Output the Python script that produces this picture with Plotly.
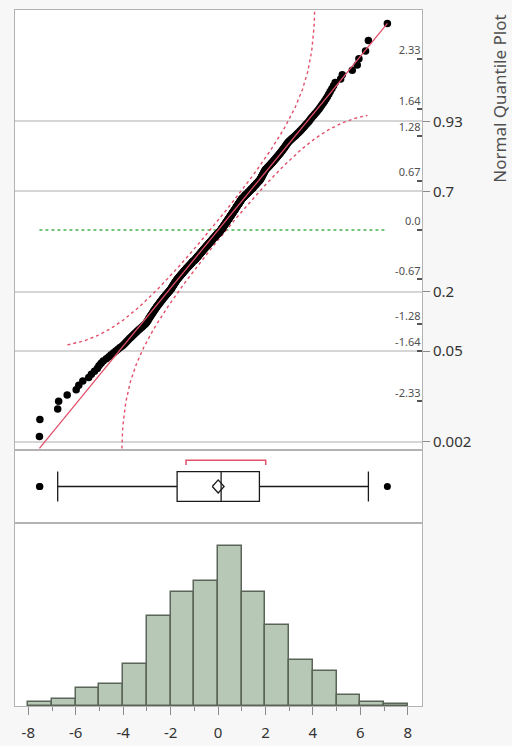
from statistics import NormalDist
import numpy as np
import plotly.graph_objects as go

# Sorted sample (n = 399), grouped by unit-width bin for readability
values_by_bin = {
    "-8..-7": [-7.53, -7.51],
    "-7..-6": [-6.76, -6.72, -6.36],
    "-6..-5": [-5.98, -5.87, -5.70, -5.45, -5.34, -5.21, -5.09, -5.02],
    "-5..-4": [-4.93, -4.84, -4.71, -4.60, -4.51, -4.40, -4.31, -4.22, -4.13, -4.04],
    "-4..-3": [-3.97, -3.91, -3.85, -3.79, -3.73, -3.67, -3.62, -3.56, -3.51, -3.45,
               -3.40, -3.34, -3.29, -3.23, -3.18, -3.13, -3.08, -3.04, -3.01],
    "-3..-2": [-2.98, -2.95, -2.93, -2.91, -2.88, -2.86, -2.83, -2.81, -2.78, -2.76,
               -2.73, -2.71, -2.69, -2.66, -2.64, -2.61, -2.59, -2.57, -2.54, -2.52,
               -2.49, -2.47, -2.45, -2.42, -2.40, -2.37, -2.35, -2.33, -2.30, -2.28,
               -2.25, -2.23, -2.21, -2.18, -2.16, -2.13, -2.11, -2.09, -2.06, -2.04,
               -2.02],
    "-2..-1": [-1.99, -1.97, -1.96, -1.94, -1.93, -1.91, -1.89, -1.88, -1.86, -1.84,
               -1.83, -1.81, -1.80, -1.78, -1.76, -1.75, -1.73,
               -1.71, -1.69, -1.67, -1.65, -1.63, -1.61, -1.59, -1.57, -1.55, -1.53,
               -1.51, -1.49, -1.47, -1.45, -1.43, -1.41, -1.39, -1.37, -1.35, -1.33,
               -1.31, -1.29, -1.27, -1.25, -1.23, -1.21, -1.19, -1.17, -1.15, -1.13,
               -1.11, -1.09, -1.07, -1.05, -1.02],
    "-1..0": [-0.99, -0.97, -0.95, -0.94, -0.92, -0.90, -0.88, -0.87, -0.85, -0.83,
              -0.82, -0.80, -0.78, -0.76, -0.75, -0.73, -0.71, -0.69, -0.68, -0.66,
              -0.64, -0.62, -0.61, -0.59, -0.57, -0.56, -0.54, -0.52, -0.50, -0.49,
              -0.47, -0.45, -0.43, -0.42, -0.40, -0.38, -0.36, -0.35, -0.33, -0.31,
              -0.29, -0.28, -0.26, -0.24, -0.23, -0.21, -0.19, -0.17, -0.16, -0.14,
              -0.12, -0.10, -0.09, -0.07, -0.05, -0.03, -0.01],
    "0..1": [0.01, 0.03, 0.04, 0.06, 0.08, 0.09, 0.11, 0.13,
             0.14, 0.15, 0.17, 0.18, 0.19, 0.21, 0.22, 0.23, 0.25, 0.26,
             0.27, 0.29, 0.30, 0.31, 0.33, 0.34, 0.35, 0.37, 0.38, 0.39,
             0.41, 0.42, 0.43, 0.45, 0.46, 0.47, 0.49, 0.50, 0.51, 0.53,
             0.54, 0.55, 0.57, 0.58, 0.59, 0.61, 0.62, 0.63, 0.65, 0.66,
             0.67, 0.69, 0.70, 0.71, 0.73, 0.74, 0.75, 0.77, 0.78, 0.79,
             0.81, 0.82, 0.83, 0.85, 0.86, 0.87, 0.89, 0.90, 0.91, 0.93,
             0.94, 0.95, 0.97, 0.98, 0.99],
    "1..2": [1.01, 1.03, 1.05, 1.08, 1.10, 1.12, 1.14, 1.16, 1.18, 1.21,
             1.23, 1.25, 1.27, 1.29, 1.31, 1.34, 1.36, 1.38, 1.40, 1.42,
             1.45, 1.47, 1.49, 1.51, 1.53, 1.55, 1.58, 1.60, 1.62, 1.64,
             1.66, 1.68, 1.71, 1.73, 1.75,
             1.77, 1.78, 1.80, 1.81, 1.83, 1.84, 1.85, 1.87, 1.88, 1.89,
             1.91, 1.92, 1.94, 1.95, 1.96, 1.98, 1.99],
    "2..3": [2.01, 2.04, 2.07, 2.09, 2.12, 2.15, 2.17, 2.20, 2.23, 2.25,
             2.28, 2.31, 2.33, 2.36, 2.39, 2.41, 2.44, 2.47, 2.49, 2.52,
             2.55, 2.57, 2.60, 2.63, 2.65, 2.68, 2.71, 2.73, 2.76, 2.79,
             2.81, 2.84, 2.87, 2.89, 2.92, 2.95, 2.98],
    "3..4": [3.02, 3.07, 3.11, 3.16, 3.21, 3.26, 3.30, 3.35, 3.40, 3.45,
             3.49, 3.54, 3.59, 3.64, 3.68, 3.73, 3.78, 3.83, 3.87, 3.92, 3.97],
    "4..5": [4.03, 4.08, 4.14, 4.20, 4.26, 4.31, 4.37, 4.43, 4.49, 4.55,
             4.61, 4.67, 4.73, 4.80, 4.87, 4.94],
    "5..6": [5.17, 5.24, 5.66, 5.87, 5.94],
    "6..7": [6.22, 6.34],
    "7..8": [7.14],
}

# Reference probabilities shown on the outer quantile axis
prob_ticks = [0.002, 0.05, 0.2, 0.7, 0.93]
prob_labels = ["0.002", "0.05", "0.2", "0.7", "0.93"]
# Normal quantile ticks drawn inside the plot frame
quant_ticks = [-2.33, -1.64, -1.28, -0.67, 0.0, 0.67, 1.28, 1.64, 2.33]
quant_labels = ["-2.33", "-1.64", "-1.28", "-0.67", "0.0", "0.67", "1.28", "1.64", "2.33"]
# Histogram x ticks
x_ticks = [-8, -6, -4, -2, 0, 2, 4, 6, 8]
x_labels = ["-8", "-6", "-4", "-2", "0", "2", "4", "6", "8"]

band_span = (-6.35, 6.30)   # x-extent of the Lilliefors bands
band_d = 0.053              # band half-width in probability units

nd = NormalDist()
data = np.sort(np.concatenate([np.array(v, float) for v in values_by_bin.values()]))
n = len(data)
mean = float(data.mean())
sd = float(data.std(ddof=1))
ranks = np.arange(1, n + 1)
quant = np.array([nd.inv_cdf(r / (n + 1)) for r in ranks])

RED = "#e2506a"
GRID = "#d6d6d6"
FRAME = "#b3b3b3"
FONT = "Noto Sans"

fig = go.Figure()

# ---- histogram (bottom panel)
fig.add_trace(go.Histogram(
    x=data, xbins=dict(start=-8, end=8, size=1), autobinx=False,
    marker=dict(color="#b8c8b6", line=dict(color="#5a6558", width=1.5)),
    xaxis="x", yaxis="y", showlegend=False, hoverinfo="skip"))

# ---- outlier box plot (middle panel)
fig.add_trace(go.Box(
    x=data, y0=0, orientation="h", boxpoints="outliers", whiskerwidth=1,
    width=0.82, fillcolor="white", line=dict(color="#1a1a1a", width=1.3),
    marker=dict(color="black", size=7), quartilemethod="linear",
    xaxis="x2", yaxis="y2", showlegend=False, hoverinfo="skip"))

# mean diamond: mean with 95% confidence interval
ci = 1.96 * sd / np.sqrt(n)
fig.add_trace(go.Scatter(
    x=[mean - ci, mean, mean + ci, mean, mean - ci],
    y=[0, 0.18, 0, -0.18, 0], mode="lines",
    line=dict(color="#1a1a1a", width=1.3),
    xaxis="x2", yaxis="y2", showlegend=False, hoverinfo="skip"))

# shortest half bracket
k = n // 2
widths = data[k:] - data[:n - k]
i0 = int(np.argmin(widths))
sh_lo, sh_hi = float(data[i0]), float(data[i0 + k])
fig.add_trace(go.Scatter(
    x=[sh_lo, sh_lo, sh_hi, sh_hi], y=[0.59, 0.72, 0.72, 0.59], mode="lines",
    line=dict(color=RED, width=1.5),
    xaxis="x2", yaxis="y2", showlegend=False, hoverinfo="skip"))

# ---- normal quantile plot (top panel)
xmin, xmax = float(data.min()), float(data.max())
fig.add_trace(go.Scatter(
    x=[xmin, xmax], y=[0, 0], mode="lines",
    line=dict(color="#4cb050", width=1.6, dash="dot"),
    xaxis="x3", yaxis="y3", showlegend=False, hoverinfo="skip"))

# Lilliefors confidence bands
xs = np.linspace(band_span[0], band_span[1], 600)
up_x, up_y, lo_x, lo_y = [], [], [], []
for xv in xs:
    p = nd.cdf((xv - mean) / sd)
    if p + band_d < 0.99995:
        up_x.append(xv)
        up_y.append(nd.inv_cdf(p + band_d))
    if p - band_d > 0.00005:
        lo_x.append(xv)
        lo_y.append(nd.inv_cdf(p - band_d))
for bx, by in ((up_x, up_y), (lo_x, lo_y)):
    fig.add_trace(go.Scatter(
        x=bx, y=by, mode="lines", line=dict(color=RED, width=1.4, dash="dot"),
        xaxis="x3", yaxis="y3", showlegend=False, hoverinfo="skip"))

fig.add_trace(go.Scatter(
    x=data, y=quant, mode="markers",
    marker=dict(color="black", size=7.5),
    xaxis="x3", yaxis="y3", showlegend=False, hoverinfo="skip"))

# fitted normal line over the points
fig.add_trace(go.Scatter(
    x=[xmin, xmax], y=[(xmin - mean) / sd, (xmax - mean) / sd], mode="lines",
    line=dict(color=RED, width=1.3),
    xaxis="x3", yaxis="y3", showlegend=False, hoverinfo="skip"))

# probability axis shares the quantile scale; it carries the same points invisibly
fig.add_trace(go.Scatter(
    x=data, y=quant, mode="markers", marker=dict(opacity=0),
    xaxis="x3", yaxis="y4", showlegend=False, hoverinfo="skip"))

XR = [-8.56, 8.60]
d_hist = [0.0, 0.263]
d_box = [0.263, 0.3678]
d_qq = [0.3678, 1.0]
frame = dict(showline=True, linecolor=FRAME, linewidth=1.2, mirror=True,
             zeroline=False, automargin=False)

fig.update_layout(
    width=512, height=746,
    margin=dict(l=15, r=90, t=10, b=40),
    paper_bgcolor="#f7f7f7", plot_bgcolor="white",
    font=dict(family=FONT, color="#333333"),
    bargap=0,
    xaxis=dict(domain=[0, 1], anchor="y", range=XR, tickvals=x_ticks, ticktext=x_labels,
               ticks="outside", ticklen=8, tickcolor="#8a8a8a", tickwidth=1,
               ticklabelstandoff=5,
               tickfont=dict(size=15, color="#333333"), showgrid=False,
               minor=dict(dtick=1, tick0=0, ticks="outside", ticklen=4,
                          tickcolor="#8a8a8a", showgrid=False),
               **frame),
    yaxis=dict(domain=d_hist, anchor="x", range=[0, 83.3], showticklabels=False,
               ticks="", showgrid=False, **frame),
    xaxis2=dict(domain=[0, 1], anchor="y2", matches="x", range=XR,
                showticklabels=False, ticks="", showgrid=False, **frame),
    yaxis2=dict(domain=d_box, anchor="x2", range=[-1, 1], showticklabels=False,
                ticks="", showgrid=False, **frame),
    xaxis3=dict(domain=[0, 1], anchor="y3", matches="x", range=XR,
                showticklabels=False, ticks="", showgrid=False, **frame),
    yaxis3=dict(domain=d_qq, anchor="x3", range=[-2.99, 2.99], side="right",
                tickvals=quant_ticks, ticktext=quant_labels,
                ticks="inside", ticklen=5, tickcolor="#555555", tickwidth=1.5,
                ticklabelposition="inside top",
                tickfont=dict(size=11, color="#505050"), showgrid=False, **frame),
    yaxis4=dict(overlaying="y3", anchor="x3", side="right", range=[-2.99, 2.99],
                tickvals=[nd.inv_cdf(p) for p in prob_ticks], ticktext=prob_labels,
                ticks="outside", ticklen=7, tickcolor="#8a8a8a", tickwidth=1,
                tickfont=dict(size=15, color="#333333"),
                showgrid=True, gridcolor=GRID, gridwidth=1.5,
                showline=False, zeroline=False, automargin=False),
    annotations=[dict(text="Normal Quantile Plot", textangle=-90,
                      xref="paper", yref="paper", x=1.19, y=0.873,
                      xanchor="center", yanchor="middle",
                      showarrow=False, font=dict(size=17, color="#505050"))],
)

fig.write_html("out.html")
